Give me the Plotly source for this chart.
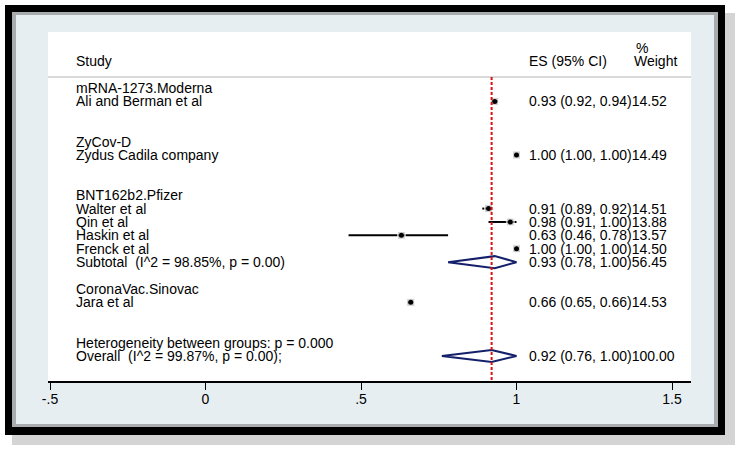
import plotly.graph_objects as go

# ----------------------------------------------------------------------------------------------
# Data

groups = ["mRNA-1273.Moderna", "ZyCov-D", "BNT162b2.Pfizer", "CoronaVac.Sinovac"]
studies = ["Ali and Berman et al", "Zydus Cadila company", "Walter et al", "Qin et al",
           "Haskin et al", "Frenck et al", "Jara et al"]
study_group = [0, 1, 2, 2, 2, 2, 3]
es = [0.93, 1.00, 0.91, 0.98, 0.63, 1.00, 0.66]
ci_lo = [0.92, 1.00, 0.89, 0.91, 0.46, 1.00, 0.65]
ci_hi = [0.94, 1.00, 0.92, 1.00, 0.78, 1.00, 0.66]
weight = [14.52, 14.49, 14.51, 13.88, 13.57, 14.50, 14.53]

subtotal_label = {2: "Subtotal  (I^2 = 98.85%, p = 0.00)"}
subtotal_es = {2: [0.93, 0.78, 1.00, 56.45]}

het_label = "Heterogeneity between groups: p = 0.000"
overall_label = "Overall  (I^2 = 99.87%, p = 0.00);"
overall = [0.92, 0.76, 1.00, 100.00]

tick_vals = [-0.5, 0, 0.5, 1, 1.5]
tick_text = ["-.5", "0", ".5", "1", "1.5"]

# ----------------------------------------------------------------------------------------------
# Row layout (metan style: header, studies, subtotal slot, blank)

study_rows = []
label_rows = []   # (row, text)
diamonds = []     # (row, es, lo, hi, w)
r = 0
for g, name in enumerate(groups):
    label_rows.append((r, name))
    r += 1
    for i, s in enumerate(studies):
        if study_group[i] == g:
            label_rows.append((r, s))
            study_rows.append((r, i))
            r += 1
    if g in subtotal_label:
        label_rows.append((r, subtotal_label[g]))
        diamonds.append((r, *subtotal_es[g]))
    r += 2
label_rows.append((r, het_label))
label_rows.append((r + 1, overall_label))
diamonds.append((r + 1, *overall))

FONT = "Liberation Sans, Arial, Helvetica, sans-serif"
W, H = 740, 449
ML, MR, MT, MB = 48, 49, 32, 68
PW, PH = W - ML - MR, H - MT - MB

def px(x):
    return (x - ML) / PW

def py(y):
    return (H - MB - y) / PH

x_min = -0.5 - 2 / 311
x_max = -0.5 + 641 / 311
y_top, y_bot = -4.18, 21.87

fig = go.Figure()

# CI lines
for row, i in study_rows:
    if ci_hi[i] > ci_lo[i]:
        fig.add_trace(go.Scatter(x=[ci_lo[i], ci_hi[i]], y=[row, row], mode="lines",
                                 line=dict(color="black", width=2), hoverinfo="skip"))

# weight boxes + point estimates
fig.add_trace(go.Scatter(
    x=[es[i] for _, i in study_rows], y=[row for row, _ in study_rows], mode="markers",
    marker=dict(symbol="square", color="#bdbdbd",
                size=[8 * (weight[i] / 14.5) ** 0.5 for _, i in study_rows]),
    hoverinfo="skip"))
fig.add_trace(go.Scatter(
    x=[es[i] for _, i in study_rows], y=[row for row, _ in study_rows], mode="markers",
    marker=dict(symbol="circle", color="black", size=5), hoverinfo="skip"))

# pooled diamonds
for row, e, lo, hi, w in diamonds:
    fig.add_trace(go.Scatter(x=[lo, e, hi, e, lo], y=[row, row - 0.45, row, row + 0.45, row],
                             mode="lines", line=dict(color="#15206b", width=2), hoverinfo="skip"))

# text columns
ann = []
def txt(x, row, t):
    ann.append(dict(x=px(x), xref="paper", y=row, yref="y", text=t, showarrow=False,
                    xanchor="left", yanchor="middle", borderpad=0,
                    font=dict(family=FONT, size=14, color="black")))

txt(75, -2, "Study")
txt(528, -2, "ES (95% CI)")
txt(633, -2, "Weight")
txt(635, -3, "%")
for row, t in label_rows:
    txt(75, row, t)
for row, i in study_rows:
    txt(528, row, f"{es[i]:.2f} ({ci_lo[i]:.2f}, {ci_hi[i]:.2f}){weight[i]:.2f}")
for row, e, lo, hi, w in diamonds:
    txt(528, row, f"{e:.2f} ({lo:.2f}, {hi:.2f}){w:.2f}")

# frame, shadow and background regions
shapes = [
    dict(type="rect", xref="paper", yref="paper", x0=px(12), x1=px(735), y0=py(13), y1=py(445),
         fillcolor="#d4d4d4", line_width=0, layer="below"),
    dict(type="rect", xref="paper", yref="paper", x0=px(5), x1=px(725), y0=py(5), y1=py(435),
         fillcolor="black", line_width=0, layer="below"),
    dict(type="rect", xref="paper", yref="paper", x0=px(12), x1=px(718), y0=py(12), y1=py(427),
         fillcolor="#a9acae", line_width=0, layer="below"),
    dict(type="rect", xref="paper", yref="paper", x0=px(16), x1=px(714), y0=py(15), y1=py(424),
         fillcolor="#e7eef2", line_width=0, layer="below"),
    dict(type="rect", xref="paper", yref="paper", x0=0, x1=1, y0=0, y1=1,
         fillcolor="white", line_width=0, layer="below"),
    # header separator
    dict(type="line", xref="paper", yref="y", x0=0, x1=1, y0=-0.82, y1=-0.82,
         line=dict(color="#b4b4b4", width=1)),
    # overall effect reference line
    dict(type="line", xref="x", yref="y", x0=overall[0], x1=overall[0], y0=-0.82, y1=y_bot,
         line=dict(color="#e01010", width=2, dash="3px,2px")),
]

fig.update_layout(
    width=W, height=H,
    margin=dict(l=ML, r=MR, t=MT, b=MB),
    paper_bgcolor="white", plot_bgcolor="rgba(0,0,0,0)",
    showlegend=False,
    annotations=ann, shapes=shapes,
    font=dict(family=FONT, size=14, color="black"),
)
fig.update_xaxes(range=[x_min, x_max], showgrid=False, zeroline=False,
                 showline=True, linecolor="black", linewidth=1.5,
                 ticks="outside", ticklen=7, tickwidth=1.2, tickcolor="black",
                 tickvals=tick_vals, ticktext=tick_text, tickfont=dict(size=14),
                 ticklabelstandoff=-3)
fig.update_yaxes(range=[y_bot, y_top], showgrid=False, zeroline=False, showticklabels=False,
                 showline=False)

# page has a default 8px body margin; drop it so the figure sits at the window origin
fig.write_html("out.html", config={"displayModeBar": False},
               post_script="document.body.style.margin='0';")
